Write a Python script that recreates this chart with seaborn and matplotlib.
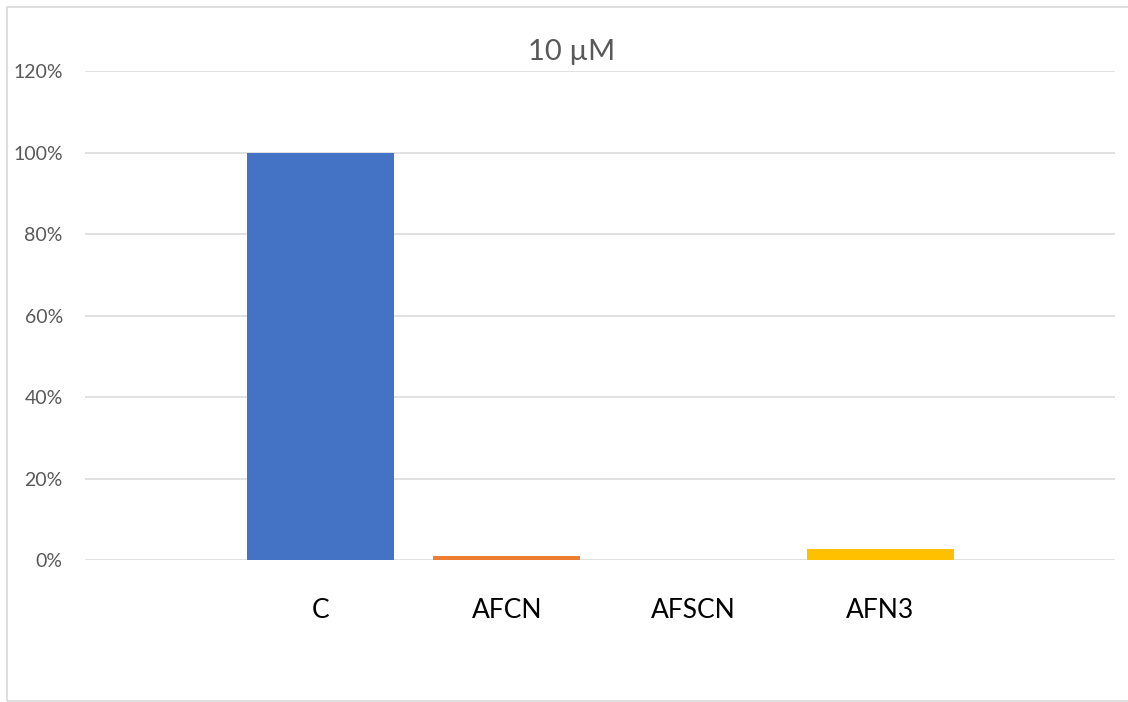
import matplotlib
matplotlib.use("Agg")
import matplotlib.pyplot as plt
from matplotlib.patches import Rectangle
from matplotlib.ticker import PercentFormatter, MultipleLocator
import seaborn as sns
import pandas as pd

# Data
categories = ["C", "AFCN", "AFSCN", "AFN3"]
values = [1.00, 0.009, 0.0, 0.027]
colors = ["#4472C4", "#ED7D31", "#A5A5A5", "#FFC000"]
title = "10 \u00b5M"

sns.set_theme(style="white")
plt.rcParams["font.family"] = ["Lato", "DejaVu Sans"]

W, H = 1128, 702
fig = plt.figure(figsize=(W / 100, H / 100), dpi=100)
ax = fig.add_axes([85 / W, (H - 560) / H, (1115 - 85) / W, (560 - 71.3) / H])

df = pd.DataFrame({"cat": categories, "val": values})
sns.barplot(data=df, x="cat", y="val", hue="cat", palette=colors,
            width=0.787, legend=False, ax=ax, saturation=1, linewidth=0)

ax.set_ylim(0, 1.2)
ax.set_xlim(-1.26, 4.257)
ax.yaxis.set_major_locator(MultipleLocator(0.2))
ax.yaxis.set_major_formatter(PercentFormatter(1.0, decimals=0))
ax.grid(axis="y", color="#D9D9D9", linewidth=1.1)
ax.set_axisbelow(True)
for s in ax.spines.values():
    s.set_visible(False)
ax.set_xlabel("")
ax.set_ylabel("")
ax.tick_params(axis="y", length=0, pad=16, labelsize=14, labelcolor="#595959")
ax.tick_params(axis="x", length=0, pad=27, labelsize=19, labelcolor="#000000")

fig.text(572 / W, (H - 52) / H, title, ha="center", va="center",
         fontsize=21, color="#595959")

# Chart border
fig.patches.append(Rectangle((6.5 / W, 1.5 / H), (W + 10) / W, (H - 8) / H,
                             transform=fig.transFigure, fill=False,
                             edgecolor="#D9D9D9", linewidth=1.2))

fig.savefig("out.png", dpi=100, facecolor="white")
